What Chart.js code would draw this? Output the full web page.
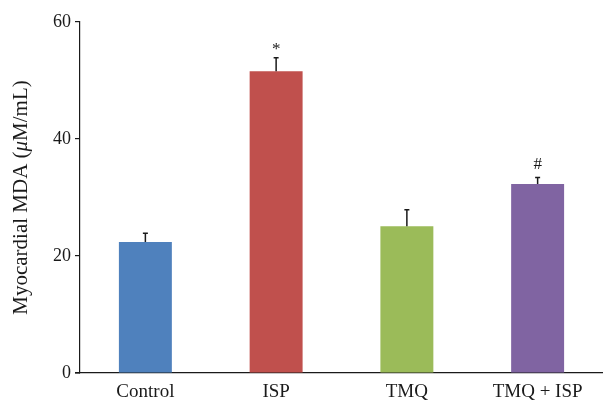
<!DOCTYPE html>
<html>
<head>
<meta charset="utf-8">
<script src="https://cdn.jsdelivr.net/npm/chart.js@4.4.1/dist/chart.umd.min.js"></script>
<style>
  html, body { margin: 0; padding: 0; background: #ffffff; }
  #wrap { width: 603px; height: 402px; position: relative; }
</style>
</head>
<body>
<div id="wrap"><canvas id="chart"></canvas></div>
<script>
// Myocardial MDA by treatment group (mean with upper SD whisker)
const groups = ['Control', 'ISP', 'TMQ', 'TMQ + ISP'];
const mdaMean = [22.4, 51.6, 25.1, 32.3];
const mdaSD = [1.5, 2.3, 2.8, 1.1];
const markers = ['', '*', '', '#'];
const barColors = ['#4F81BD', '#C0504D', '#9BBB59', '#8064A2'];
const yTicks = [0, 20, 40, 60];

const SERIF = '"Liberation Serif", "DejaVu Serif", serif';
const INK = '#1a1a1a';

// upper whiskers and significance markers
const errorBars = {
  id: 'errorBars',
  afterDatasetsDraw(chart) {
    const ctx = chart.ctx;
    const y = chart.scales.y;
    const meta = chart.getDatasetMeta(0);
    // the asterisk glyph sits high on its line, so it needs less lift
    const lift = { '*': 4, '#': 9 };
    ctx.save();
    ctx.strokeStyle = INK;
    ctx.lineWidth = 1.5;
    meta.data.forEach((bar, i) => {
      const x = bar.x;
      const yTop = y.getPixelForValue(mdaMean[i] + mdaSD[i]);
      const yBase = y.getPixelForValue(mdaMean[i]);
      ctx.beginPath();
      ctx.moveTo(x, yBase);
      ctx.lineTo(x, yTop);
      ctx.moveTo(x - 2.5, yTop);
      ctx.lineTo(x + 2.5, yTop);
      ctx.stroke();
      if (markers[i]) {
        ctx.fillStyle = INK;
        ctx.font = '17px ' + SERIF;
        ctx.textAlign = 'center';
        ctx.textBaseline = 'alphabetic';
        ctx.fillText(markers[i], x, yTop - lift[markers[i]]);
      }
    });
    ctx.restore();
  }
};

// rotated axis title with italic mu, plus the x axis line running left past the y axis
const axisDecor = {
  id: 'axisDecor',
  afterDraw(chart) {
    const ctx = chart.ctx;
    const area = chart.chartArea;
    ctx.save();
    ctx.strokeStyle = INK;
    ctx.lineWidth = 1.2;
    ctx.beginPath();
    ctx.moveTo(area.left - 5, area.bottom);
    ctx.lineTo(area.left, area.bottom);
    ctx.stroke();

    const size = 21;
    const parts = [
      { t: 'Myocardial MDA (', f: size + 'px ' + SERIF },
      { t: 'μ', f: 'italic ' + size + 'px ' + SERIF },
      { t: 'M/mL)', f: size + 'px ' + SERIF }
    ];
    let total = 0;
    parts.forEach(p => { ctx.font = p.f; p.w = ctx.measureText(p.t).width; total += p.w; });
    const cy = (area.top + area.bottom) / 2;
    ctx.translate(27, cy);
    ctx.rotate(-Math.PI / 2);
    ctx.fillStyle = INK;
    ctx.textBaseline = 'alphabetic';
    ctx.textAlign = 'left';
    let x = -total / 2;
    parts.forEach(p => { ctx.font = p.f; ctx.fillText(p.t, x, 0); x += p.w; });
    ctx.restore();
  }
};

new Chart(document.getElementById('chart'), {
  type: 'bar',
  data: {
    labels: groups,
    datasets: [{
      data: mdaMean,
      backgroundColor: barColors,
      borderWidth: 0,
      barPercentage: 0.405,
      categoryPercentage: 1.0
    }]
  },
  options: {
    responsive: true,
    maintainAspectRatio: false,
    animation: false,
    layout: { padding: { top: 22, right: 0, left: 0, bottom: 0 } },
    plugins: { legend: { display: false }, tooltip: { enabled: false } },
    scales: {
      x: {
        grid: { display: false },
        border: { display: true, color: INK, width: 1.2 },
        ticks: { color: INK, font: { family: SERIF, size: 19 }, padding: 0 },
        afterFit(scale) { scale.height = 29; }
      },
      y: {
        min: 0,
        max: 60,
        afterBuildTicks(scale) { scale.ticks = yTicks.map(v => ({ value: v })); },
        grid: { display: true, drawOnChartArea: false, drawTicks: true, tickLength: 5, color: INK, lineWidth: 1.2 },
        border: { display: true, color: INK, width: 1.2 },
        ticks: { color: INK, font: { family: SERIF, size: 18 }, padding: 4 },
        afterFit(scale) { scale.width = 80; }
      }
    }
  },
  plugins: [errorBars, axisDecor]
});
</script>
</body>
</html>
